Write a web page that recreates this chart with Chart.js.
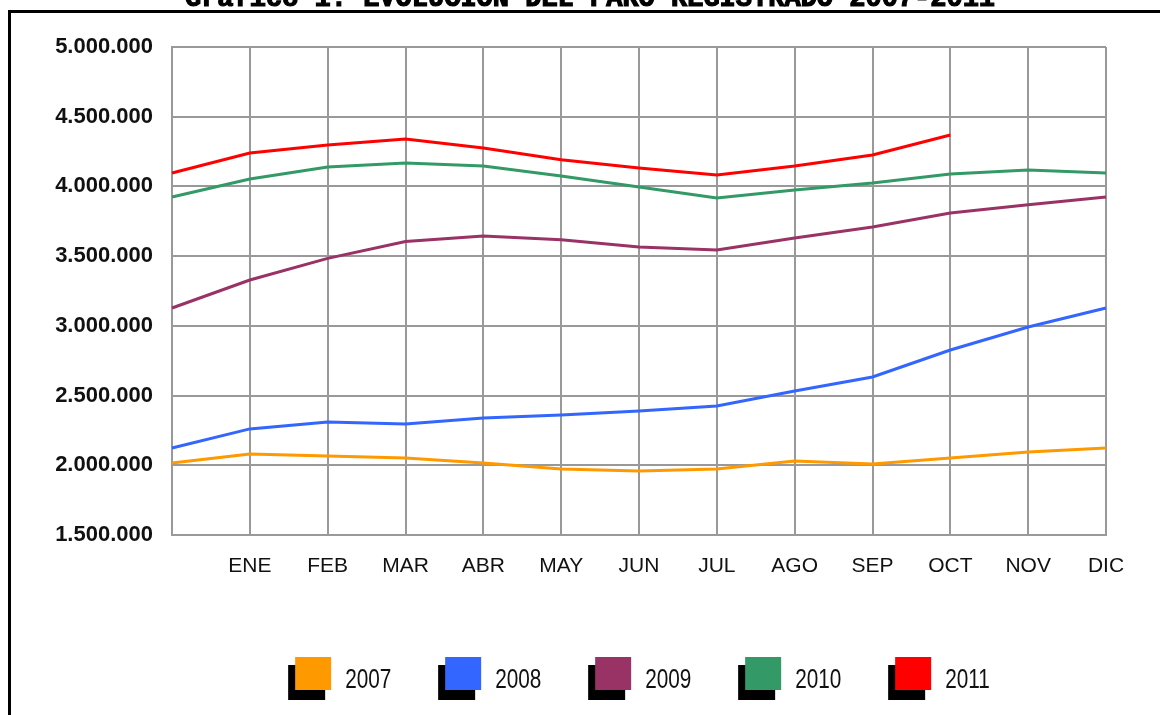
<!DOCTYPE html>
<html lang="es">

<head>
    <meta charset="UTF-8">
    <title>Paro registrado 2007-2011</title>
    <style>
        body { margin: 0; background: #fff; }
        canvas { display: block; }
    </style>
</head>

<body>
    <canvas id="paro" width="1160" height="715"></canvas>

    <script src="https://cdn.jsdelivr.net/npm/chart.js"></script>
    <script>

        const title = 'Gráfico 1: EVOLUCIÓN DEL PARO REGISTRADO 2007-2011';
        // first point is the December of the previous year (no label)
        const months = ['', 'ENE', 'FEB', 'MAR', 'ABR', 'MAY', 'JUN', 'JUL', 'AGO', 'SEP', 'OCT', 'NOV', 'DIC'];
        const years = ['2007', '2008', '2009', '2010', '2011'];
        const colors = ['#FF9900', '#3366FF', '#993366', '#339966', '#FF0000'];

        const paro2007 = [2016000, 2081000, 2067000, 2052000, 2016000, 1973000, 1959000, 1973000, 2031000, 2009000, 2052000, 2095000, 2124000];
        const paro2008 = [2124000, 2261000, 2311000, 2296000, 2339000, 2361000, 2389000, 2425000, 2533000, 2633000, 2827000, 2992000, 3128000];
        const paro2009 = [3128000, 3329000, 3484000, 3605000, 3644000, 3618000, 3566000, 3544000, 3630000, 3709000, 3809000, 3868000, 3924000];
        const paro2010 = [3924000, 4053000, 4139000, 4168000, 4147000, 4075000, 3996000, 3917000, 3974000, 4025000, 4089000, 4118000, 4096000];
        const paro2011 = [4096000, 4240000, 4297000, 4340000, 4276000, 4192000, 4132000, 4082000, 4147000, 4225000, 4369000, null, null];
        const series = [paro2007, paro2008, paro2009, paro2010, paro2011];

        function miles(v) {
            return String(v).replace(/\B(?=(\d{3})+(?!\d))/g, '.');
        }

        // frame, cut title and shadowed legend
        const decor = {
            id: 'decor',
            beforeDraw(chart) {
                const ctx = chart.ctx;
                ctx.save();
                ctx.fillStyle = '#fff';
                ctx.fillRect(0, 0, chart.width, chart.height);
                ctx.restore();
            },
            afterDraw(chart) {
                const ctx = chart.ctx;
                const area = chart.chartArea;
                ctx.save();
                ctx.strokeStyle = '#000';
                ctx.lineWidth = 3;
                ctx.beginPath();
                ctx.moveTo(9.5, chart.height);
                ctx.lineTo(9.5, 11.5);
                ctx.lineTo(chart.width, 11.5);
                ctx.stroke();

                ctx.fillStyle = '#000';
                ctx.font = 'bold 27px "Liberation Mono", "Courier New", monospace';
                ctx.textAlign = 'center';
                ctx.textBaseline = 'alphabetic';
                ctx.lineWidth = 1.2;
                ctx.fillText(title, 590, 6);
                ctx.strokeText(title, 590, 6);

                // legend (narrow text)
                ctx.font = '27px "Liberation Sans", Arial, sans-serif';
                ctx.textAlign = 'left';
                ctx.textBaseline = 'middle';
                const squeeze = 0.77;
                const step = 150, boxW = 36, boxH = 33, shX = -7, shY = 8;
                const sets = chart.data.datasets;
                const lastW = -shX + boxW + 14 + squeeze * ctx.measureText(sets[sets.length - 1].label).width;
                const total = (sets.length - 1) * step + lastW;
                let x = (area.left + area.right) / 2 - total / 2 - shX;
                const top = area.bottom + 122;
                sets.forEach(ds => {
                    ctx.fillStyle = '#000';
                    ctx.fillRect(x + shX, top + shY, boxW + 1, boxH + 2);
                    ctx.fillStyle = ds.borderColor;
                    ctx.fillRect(x, top, boxW, boxH);
                    ctx.save();
                    ctx.translate(x + boxW + 14, top + 24);
                    ctx.scale(squeeze, 1);
                    ctx.fillStyle = '#111';
                    ctx.fillText(ds.label, 0, 0);
                    ctx.restore();
                    x += step;
                });
                ctx.restore();
            }
        };

        const config = {
            type: 'line',
            data: {
                labels: months,
                datasets: years.map((y, i) => ({
                    label: y,
                    data: series[i],
                    borderColor: colors[i],
                    backgroundColor: colors[i],
                    borderWidth: 3,
                    pointRadius: 0,
                    tension: 0,
                    spanGaps: false
                }))
            },
            options: {
                responsive: false,
                animation: false,
                layout: { padding: { left: 0, right: 54, top: 47, bottom: 120 } },
                plugins: {
                    legend: { display: false },
                    tooltip: { enabled: false }
                },
                scales: {
                    x: {
                        grid: { color: '#999', lineWidth: 2, drawTicks: false },
                        border: { color: '#999', width: 2 },
                        ticks: {
                            autoSkip: false,
                            maxRotation: 0,
                            padding: 19,
                            color: '#111',
                            font: { family: '"Liberation Sans", Arial, sans-serif', size: 21 }
                        },
                        afterFit(scale) { scale.height = 60; }
                    },
                    y: {
                        min: 1500000,
                        max: 5000000,
                        grid: { color: '#999', lineWidth: 2, drawTicks: false },
                        border: { color: '#999', width: 2 },
                        ticks: {
                            stepSize: 500000,
                            padding: 19,
                            color: '#111',
                            font: { family: '"Liberation Sans", Arial, sans-serif', size: 22, weight: 'bold' },
                            callback: v => miles(v)
                        },
                        afterFit(scale) { scale.width = 172; }
                    }
                }
            },
            plugins: [decor]
        };

        const chart = new Chart(document.getElementById('paro'), config);

    </script>
</body>

</html>
